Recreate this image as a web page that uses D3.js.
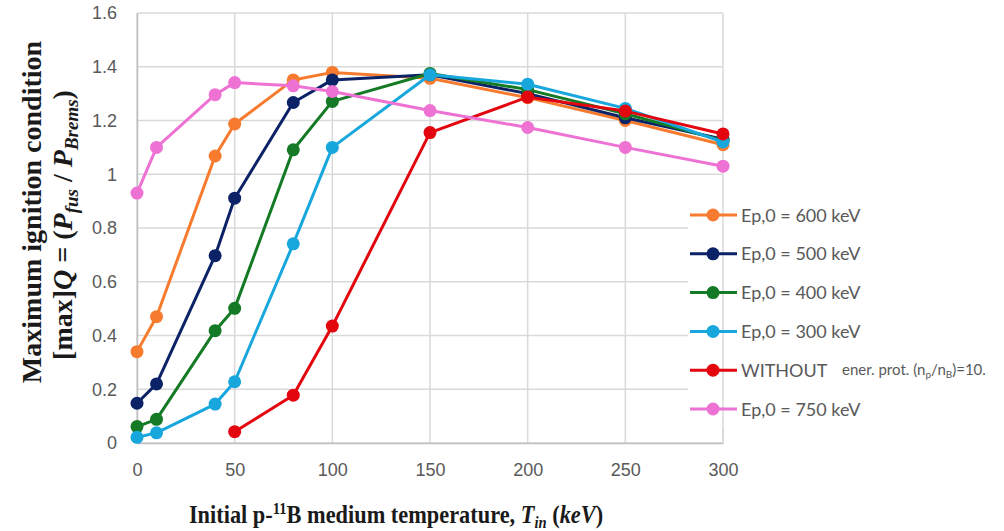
<!DOCTYPE html>
<html>
<head>
<meta charset="utf-8">
<script src="https://cdn.jsdelivr.net/npm/d3@7"></script>
<style>
  body { margin: 0; background: #fff; }
  svg { display: block; }
</style>
</head>
<body>
<svg id="chart" width="1004" height="531"></svg>
<script>
// Températures initiales (keV)
const temps = [0, 10, 40, 50, 80, 100, 150, 200, 250, 300];

// Valeurs (max Q)
const ep600 = [0.34, 0.47, 1.068, 1.187, 1.351, 1.379, 1.357, 1.285, 1.20, 1.11];
const ep500 = [0.148, 0.22, 0.697, 0.911, 1.267, 1.351, 1.37, 1.30, 1.21, 1.13];
const ep400 = [0.061, 0.088, 0.418, 0.501, 1.091, 1.271, 1.375, 1.315, 1.225, 1.125];
const ep300 = [0.021, 0.038, 0.145, 0.228, 0.741, 1.10, 1.37, 1.335, 1.245, 1.12];
const without = [null, null, null, 0.042, 0.178, 0.435, 1.155, 1.287, 1.235, 1.15];
const ep750 = [0.93, 1.10, 1.296, 1.341, 1.329, 1.308, 1.237, 1.174, 1.10, 1.03];

const seriesNames = ['Ep,0 = 600 keV', 'Ep,0 = 500 keV', 'Ep,0 = 400 keV', 'Ep,0 = 300 keV', 'WITHOUT', 'Ep,0 = 750 keV'];
const seriesValues = [ep600, ep500, ep400, ep300, without, ep750];
const colors = ['#f77b2e', '#0b2266', '#147a25', '#18a7dd', '#e3060f', '#ee72d3'];

const xTicks = [0, 50, 100, 150, 200, 250, 300];
const yTicks = [0, 0.2, 0.4, 0.6, 0.8, 1, 1.2, 1.4, 1.6];

const svg = d3.select('#chart');

const plotLeft = 137, plotRight = 723, plotTop = 13, plotBottom = 443;

const x = d3.scaleLinear().domain([0, 300]).range([plotLeft, plotRight]);
const y = d3.scaleLinear().domain([0, 1.6]).range([plotBottom, plotTop]);

// Grille
svg.append('g')
  .selectAll('line')
  .data(yTicks)
  .enter()
  .append('line')
  .attr('x1', plotLeft).attr('x2', plotRight)
  .attr('y1', d => y(d)).attr('y2', d => y(d))
  .attr('stroke', '#d9d9d9').attr('stroke-width', 1.5);

svg.append('g')
  .selectAll('line')
  .data(xTicks)
  .enter()
  .append('line')
  .attr('x1', d => x(d)).attr('x2', d => x(d))
  .attr('y1', plotTop).attr('y2', plotBottom)
  .attr('stroke', '#d9d9d9').attr('stroke-width', 1.5);

// Axes
const xAxis = svg.append('g')
  .attr('transform', `translate(0,${plotBottom})`)
  .call(d3.axisBottom(x).tickValues(xTicks).tickSize(0).tickPadding(20).tickFormat(d3.format('d')));
xAxis.select('.domain').attr('stroke', '#bfbfbf').attr('stroke-width', 1.5);

const yAxis = svg.append('g')
  .attr('transform', `translate(${plotLeft},0)`)
  .call(d3.axisLeft(y).tickValues(yTicks).tickSize(0).tickPadding(20).tickFormat(d => d === 0 || d === 1 ? d : d3.format('.1f')(d)));
yAxis.select('.domain').attr('stroke', '#bfbfbf').attr('stroke-width', 1.5);

svg.selectAll('.tick text')
  .attr('font-family', 'Liberation Sans, Arial, sans-serif')
  .attr('font-size', 18)
  .attr('fill', '#595959');

// Courbes
const line = d3.line()
  .defined(d => d[1] !== null)
  .x(d => x(d[0]))
  .y(d => y(d[1]));

seriesValues.forEach((vals, i) => {
  const pts = temps.map((t, j) => [t, vals[j]]);
  const g = svg.append('g');
  g.append('path')
    .datum(pts)
    .attr('d', line)
    .attr('fill', 'none')
    .attr('stroke', colors[i])
    .attr('stroke-width', 3)
    .attr('stroke-linejoin', 'round');
  g.selectAll('circle')
    .data(pts.filter(d => d[1] !== null))
    .enter()
    .append('circle')
    .attr('cx', d => x(d[0]))
    .attr('cy', d => y(d[1]))
    .attr('r', 6.5)
    .attr('fill', colors[i]);
});

// Légende
const legendY = d3.scaleLinear().domain([0, 5]).range([215, 409]);
const legend = svg.append('g');
legend.append('rect')
  .attr('x', 688).attr('y', 196).attr('width', 316).attr('height', 232)
  .attr('fill', '#fff');
legend.append('line')
  .attr('x1', plotRight).attr('x2', plotRight).attr('y1', 196).attr('y2', plotBottom)
  .attr('stroke', '#d9d9d9').attr('stroke-width', 1.5);

seriesNames.forEach((name, i) => {
  const ly = legendY(i);
  legend.append('line')
    .attr('x1', 690).attr('x2', 737).attr('y1', ly).attr('y2', ly)
    .attr('stroke', colors[i]).attr('stroke-width', 3);
  legend.append('circle')
    .attr('cx', 713).attr('cy', ly).attr('r', 6.5).attr('fill', colors[i]);
  legend.append('text')
    .attr('x', 741).attr('y', ly + 6.5)
    .attr('font-family', 'Lato, sans-serif')
    .attr('font-size', 18)
    .attr('fill', '#595959')
    .text(name);
});

// Note à côté de WITHOUT
const note = legend.append('text')
  .attr('x', 842).attr('y', legendY(4) + 5)
  .attr('font-family', 'Lato, sans-serif')
  .attr('font-size', 15)
  .attr('fill', '#595959');
note.append('tspan').text('ener. prot. (n');
note.append('tspan').attr('font-size', 10).attr('dy', 3).text('p');
note.append('tspan').attr('dy', -3).text('/n');
note.append('tspan').attr('font-size', 10).attr('dy', 3).text('B');
note.append('tspan').attr('dy', -3).text(')=10.');

// Titre de l'axe Y
const serif = 'Liberation Serif, Times New Roman, serif';
svg.append('text')
  .attr('transform', 'translate(41,212) rotate(-90)')
  .attr('text-anchor', 'middle')
  .attr('font-family', serif)
  .attr('font-weight', 'bold')
  .attr('font-size', 28)
  .attr('fill', '#1a1a1a')
  .text('Maximum ignition condition');

const yt2 = svg.append('text')
  .attr('transform', 'translate(72,225) rotate(-90)')
  .attr('text-anchor', 'middle')
  .attr('font-family', serif)
  .attr('font-weight', 'bold')
  .attr('font-size', 28)
  .attr('fill', '#1a1a1a');
yt2.append('tspan').text('[max]');
yt2.append('tspan').attr('font-style', 'italic').text('Q');
yt2.append('tspan').text(' = (');
yt2.append('tspan').attr('font-style', 'italic').text('P');
yt2.append('tspan').attr('font-style', 'italic').attr('font-size', 19).attr('dy', 6).text('fus');
yt2.append('tspan').attr('dy', -6).text(' / ');
yt2.append('tspan').attr('font-style', 'italic').text('P');
yt2.append('tspan').attr('font-style', 'italic').attr('font-size', 19).attr('dy', 6).text('Brems');
yt2.append('tspan').attr('dy', -6).text(')');

// Titre de l'axe X (légèrement condensé)
const xt = svg.append('text')
  .attr('transform', 'translate(396,523) scale(0.86,1)')
  .attr('text-anchor', 'middle')
  .attr('font-family', serif)
  .attr('font-weight', 'bold')
  .attr('font-size', 26)
  .attr('fill', '#1a1a1a');
xt.append('tspan').text('Initial p-');
xt.append('tspan').attr('font-size', 17).attr('dy', -9).text('11');
xt.append('tspan').attr('dy', 9).text('B medium temperature, ');
xt.append('tspan').attr('font-style', 'italic').text('T');
xt.append('tspan').attr('font-style', 'italic').attr('font-size', 17).attr('dy', 5).text('in');
xt.append('tspan').attr('dy', -5).text(' (');
xt.append('tspan').attr('font-style', 'italic').text('keV');
xt.append('tspan').text(')');
</script>
</body>
</html>
